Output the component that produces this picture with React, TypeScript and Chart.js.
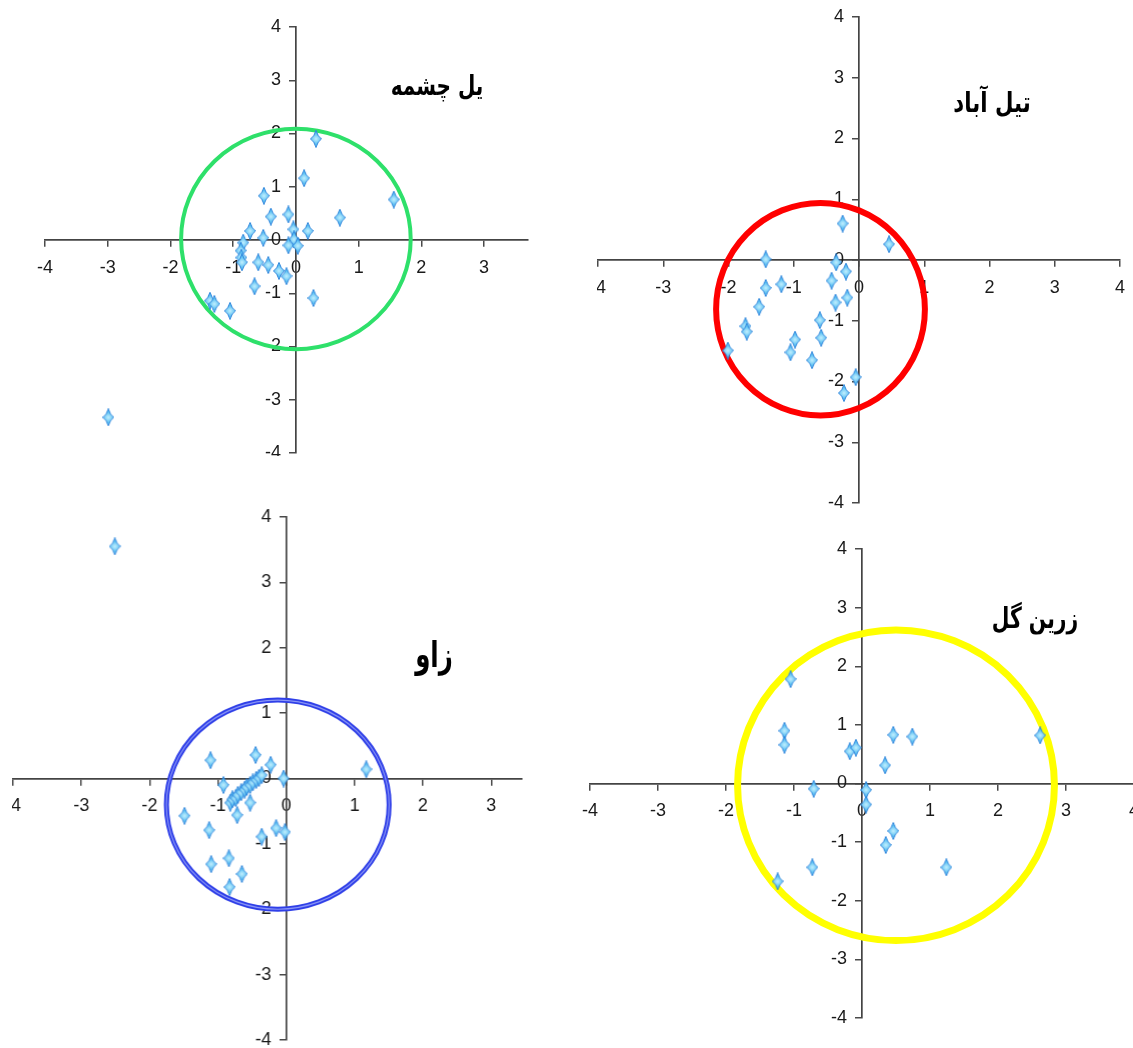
import React, { useEffect, useRef } from "react";
import { Chart, registerables } from "chart.js";

Chart.register(...registerables);

// ---------- data ----------
const tickValues = [-4, -3, -2, -1, 0, 1, 2, 3, 4];

const titles = ["یل چشمه", "تیل آباد", "زاو", "زرین گل"];

// یل چشمه
const yelCheshmehX = [0.32, 0.13, 1.56, -0.51, 0.7, -0.4, -0.12, -0.73, -0.04, 0.19, -0.52, -0.84, -0.03, -0.12, 0.03, -0.88, -0.87, -0.86, -0.6, -0.44, -0.27, -0.15, -0.66, 0.28, -1.37, -1.3, -1.05, -2.99];
const yelCheshmehY = [1.9, 1.16, 0.76, 0.83, 0.42, 0.44, 0.48, 0.17, 0.2, 0.17, 0.04, -0.05, 0.01, -0.1, -0.11, -0.2, -0.33, -0.42, -0.42, -0.47, -0.58, -0.68, -0.87, -1.09, -1.14, -1.2, -1.33, -3.33];

// تیل آباد
const tilAbadX = [-0.25, 0.46, -1.43, -0.35, -0.2, -0.42, -1.19, -1.43, -0.18, -0.36, -1.53, -0.6, -1.74, -1.72, -0.58, -0.98, -1.05, -2.01, -0.72, -0.05, -0.23];
const tilAbadY = [0.6, 0.26, 0.01, -0.04, -0.19, -0.34, -0.4, -0.46, -0.62, -0.7, -0.77, -0.99, -1.09, -1.18, -1.28, -1.31, -1.52, -1.49, -1.65, -1.93, -2.19];

// زاو
const zavoX = [-2.51, -1.11, -0.45, -0.23, -0.04, 1.17, -0.92, -0.82, -0.79, -0.74, -0.71, -0.66, -0.61, -0.58, -0.53, -0.49, -0.44, -0.4, -0.36, -0.72, -0.53, -1.49, -1.13, -0.36, -0.15, -0.02, -1.1, -0.84, -0.65, -0.83];
const zavoY = [3.55, 0.28, 0.36, 0.21, 0.0, 0.14, -0.1, -0.37, -0.32, -0.3, -0.25, -0.21, -0.17, -0.13, -0.1, -0.06, -0.02, 0.01, 0.05, -0.56, -0.37, -0.57, -0.79, -0.89, -0.76, -0.82, -1.31, -1.22, -1.46, -1.66];

// زرین گل
const zarrinGolX = [-1.05, -1.14, -1.14, -0.18, -0.09, 0.46, 0.74, 2.62, 0.34, -0.71, 0.06, 0.06, 0.46, 0.35, -0.73, 1.24, -1.24];
const zarrinGolY = [1.78, 0.9, 0.66, 0.55, 0.61, 0.83, 0.8, 0.82, 0.31, -0.09, -0.11, -0.36, -0.81, -1.05, -1.43, -1.43, -1.67];

// ellipses (data units): centre x, centre y, radius x, radius y
const ellipseCx = [0.0, -0.59, -0.125, 0.5];
const ellipseCy = [0.02, -0.81, -0.4, -0.03];
const ellipseRx = [1.83, 1.6, 1.63, 2.33];
const ellipseRy = [2.07, 1.75, 1.6, 2.65];

// axis ranges
const axisXMin = [-4, -4, -4, -4];
const axisXMax = [3.7, 4, 3.45, 4];
const axisYMin = [-4, -4, -4, -4];
const axisYMax = [4, 4, 4, 4];

// ---------- layout & style ----------
const PAD = 20;

type Panel = {
  left: number; right: number; top: number; bottom: number; // pixel of xMin, xMax, yMax, yMin
  cut: { left: number; bottom: number }; // visible margin beyond the plot edge (px)
  color: string; width: number; inner?: string;
  titleX: number; titleY: number; titleSize: number; titleScale: number;
  xs: number[]; ys: number[];
};

const panels: Panel[] = [
  { left: 45, right: 528, top: 27, bottom: 453, cut: { left: PAD, bottom: 3 }, color: "#2ee06a", width: 4, titleX: 437, titleY: 85, titleSize: 27, titleScale: 0.74, xs: yelCheshmehX, ys: yelCheshmehY },
  { left: 598, right: 1120, top: 17, bottom: 503, cut: { left: 1, bottom: PAD }, color: "#ff0000", width: 6, titleX: 992, titleY: 103, titleSize: 28, titleScale: 0.76, xs: tilAbadX, ys: tilAbadY },
  { left: 13, right: 521.6, top: 517, bottom: 1040, cut: { left: 1, bottom: PAD }, color: "#2f3fe8", width: 5, inner: "#8a96f6", titleX: 434, titleY: 655, titleSize: 36, titleScale: 0.68, xs: zavoX, ys: zavoY },
  { left: 590, right: 1134, top: 549, bottom: 1018, cut: { left: PAD, bottom: PAD }, color: "#ffff00", width: 7, titleX: 1035, titleY: 618, titleSize: 29, titleScale: 0.7, xs: zarrinGolX, ys: zarrinGolY },
];

const tickFont = { family: "'Liberation Sans Narrow', 'Liberation Sans', Arial, sans-serif", size: 18 };

function makeMarker(): HTMLCanvasElement {
  const c = document.createElement("canvas");
  c.width = 12;
  c.height = 18;
  const g = c.getContext("2d")!;
  const cx = 6, cy = 9;
  g.beginPath();
  g.moveTo(cx, 0.5);
  g.quadraticCurveTo(cx + 1.8, cy - 2.2, 11.5, cy);
  g.quadraticCurveTo(cx + 1.8, cy + 2.2, cx, 17.5);
  g.quadraticCurveTo(cx - 1.8, cy + 2.2, 0.5, cy);
  g.quadraticCurveTo(cx - 1.8, cy - 2.2, cx, 0.5);
  g.closePath();
  const grad = g.createRadialGradient(cx, cy, 0, cx, cy, 6);
  grad.addColorStop(0, "#c4f0ff");
  grad.addColorStop(1, "#4ab9f0");
  g.fillStyle = grad;
  g.fill();
  g.strokeStyle = "#2f85dc";
  g.lineWidth = 1;
  g.stroke();
  return c;
}

const ellipsePlugin = {
  id: "ellipseRing",
  beforeDatasetsDraw(chart: any, _args: any, opts: any) {
    const { ctx } = chart;
    const x = chart.scales.x;
    const y = chart.scales.y;
    const cx = x.getPixelForValue(opts.cx);
    const cy = y.getPixelForValue(opts.cy);
    const rx = Math.abs(x.getPixelForValue(opts.cx + opts.rx) - cx);
    const ry = Math.abs(y.getPixelForValue(opts.cy + opts.ry) - cy);
    ctx.save();
    ctx.beginPath();
    ctx.ellipse(cx, cy, rx, ry, 0, 0, Math.PI * 2);
    ctx.strokeStyle = opts.color;
    ctx.lineWidth = opts.width;
    ctx.stroke();
    if (opts.inner) {
      ctx.beginPath();
      ctx.ellipse(cx, cy, rx, ry, 0, 0, Math.PI * 2);
      ctx.strokeStyle = opts.inner;
      ctx.lineWidth = 1.2;
      ctx.stroke();
    }
    ctx.restore();
  },
};

function ScatterPanel({ p, i, marker }: { p: Panel; i: number; marker: HTMLCanvasElement | null }) {
  const ref = useRef<HTMLCanvasElement>(null);
  const w = p.right - p.left + PAD * 2;
  const h = p.bottom - p.top + PAD * 2;

  useEffect(() => {
    if (!ref.current || !marker) return;
    const zeroFit = (s: any) => {
      if (s.axis === "x") s.height = 0; else s.width = 0;
    };
    const setTicks = (s: any) => {
      s.ticks = tickValues.filter((v) => v >= s.min && v <= s.max).map((v) => ({ value: v }));
    };
    const axisCommon = {
      type: "linear" as const,
      grid: { display: true, drawOnChartArea: false, drawTicks: true, tickLength: 6, color: "#4a4a4a", lineWidth: 1.5 },
      border: { display: true, color: "#444444", width: 1.7 },
      afterFit: zeroFit,
      afterBuildTicks: setTicks,
    };
    const chart = new Chart(ref.current, {
      type: "scatter",
      data: {
        datasets: [
          {
            data: p.xs.map((x, k) => ({ x, y: p.ys[k] })),
            pointStyle: marker as any,
            pointRadius: 6,
            clip: false as any,
          },
        ],
      },
      options: {
        animation: false,
        responsive: false,
        maintainAspectRatio: false,
        layout: { padding: PAD },
        plugins: {
          legend: { display: false },
          tooltip: { enabled: false },
          ellipseRing: { cx: ellipseCx[i], cy: ellipseCy[i], rx: ellipseRx[i], ry: ellipseRy[i], color: p.color, width: p.width, inner: p.inner },
        } as any,
        scales: {
          x: {
            ...axisCommon,
            min: axisXMin[i],
            max: axisXMax[i],
            position: { y: 0 } as any,
            ticks: { font: tickFont, color: "#1a1a1a", padding: 11, maxRotation: 0, autoSkip: false },
          },
          y: {
            ...axisCommon,
            min: axisYMin[i],
            max: axisYMax[i],
            position: { x: 0 } as any,
            ticks: {
              font: tickFont,
              color: "#1a1a1a",
              autoSkip: false,
              callback: (v: any) => String(v) + "   ",
            },
          },
        } as any,
      },
      plugins: [ellipsePlugin as any],
    });
    return () => chart.destroy();
  }, [marker]);

  return (
    <canvas
      ref={ref}
      width={w}
      height={h}
      style={{
        position: "absolute",
        left: p.left - PAD,
        top: p.top - PAD,
        width: w,
        height: h,
        clipPath: `inset(0px 0px ${PAD - p.cut.bottom}px ${PAD - p.cut.left}px)`,
      }}
    />
  );
}

export default function App() {
  const [marker, setMarker] = React.useState<HTMLCanvasElement | null>(null);
  useEffect(() => {
    setMarker(makeMarker());
  }, []);
  return (
    <div style={{ position: "absolute", left: 0, top: 0, width: 1133, height: 1048, overflow: "hidden", background: "#ffffff" }}>
      {panels.map((p, i) => (
        <ScatterPanel key={i} p={p} i={i} marker={marker} />
      ))}
      {panels.map((p, i) => (
        <div
          key={"t" + i}
          dir="rtl"
          style={{
            position: "absolute",
            left: p.titleX,
            top: p.titleY,
            transform: `translate(-50%, -50%) scaleX(${p.titleScale})`,
            fontFamily: "'DejaVu Sans', 'Noto Sans', sans-serif",
            fontWeight: "bold",
            fontSize: p.titleSize,
            color: "#000",
            whiteSpace: "nowrap",
            lineHeight: 1,
          }}
        >
          {titles[i]}
        </div>
      ))}
    </div>
  );
}
